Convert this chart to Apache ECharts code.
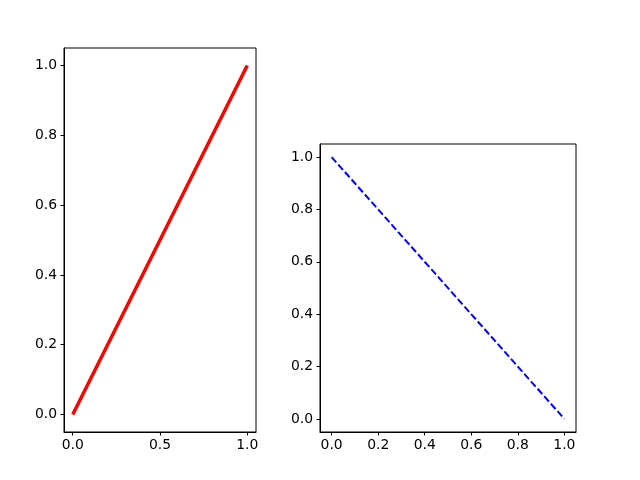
<!DOCTYPE html>
<html><head><meta charset="utf-8">
<script src="https://cdn.jsdelivr.net/npm/echarts@6/dist/echarts.min.js"></script>
<style>html,body{margin:0;padding:0;background:#fff}#c{width:640px;height:480px}</style>
</head><body><div id="c"></div>
<script>
const xValues = [0, 1];
const leftY = [0, 1];
const rightY = [1, 0];
const leftXTicks = [0, 0.5, 1.0];
const rightXTicks = [0, 0.2, 0.4, 0.6, 0.8, 1.0];
const yTicks = [0, 0.2, 0.4, 0.6, 0.8, 1.0];

const chart = echarts.init(document.getElementById('c'), null, {renderer: 'canvas'});
const font = {fontFamily: 'DejaVu Sans', fontSize: 13.9, color: '#000'};
function axis(type, idx, ticks) {
  return {
    type: 'value', gridIndex: idx, min: -0.05, max: 1.05,
    splitLine: {show: false},
    axisLine: {show: true, onZero: false, lineStyle: {color: '#000', width: 1}},
    axisTick: {show: true, customValues: ticks, length: 3.5, lineStyle: {color: '#000', width: 1}},
    axisLabel: Object.assign({customValues: ticks, margin: type === 'x' ? 6 : 7,
      formatter: v => v.toFixed(1)}, font)
  };
}
chart.setOption({
  animation: false,
  grid: [
    {left: 64, top: 48, width: 192, height: 384, show: true, borderColor: '#000', borderWidth: 1, containLabel: false},
    {left: 320, top: 144, width: 256, height: 288, show: true, borderColor: '#000', borderWidth: 1, containLabel: false}
  ],
  xAxis: [axis('x', 0, leftXTicks), axis('x', 1, rightXTicks)],
  yAxis: [axis('y', 0, yTicks), axis('y', 1, yTicks)],
  series: [
    {type: 'line', xAxisIndex: 0, yAxisIndex: 0, data: xValues.map((x, i) => [x, leftY[i]]),
     symbol: 'none', lineStyle: {color: '#ff0000', width: 3.5}},
    {type: 'line', xAxisIndex: 1, yAxisIndex: 1, data: xValues.map((x, i) => [x, rightY[i]]),
     symbol: 'none', lineStyle: {color: '#0000ff', width: 2, type: [7, 3]}}
  ]
});
</script></body></html>
